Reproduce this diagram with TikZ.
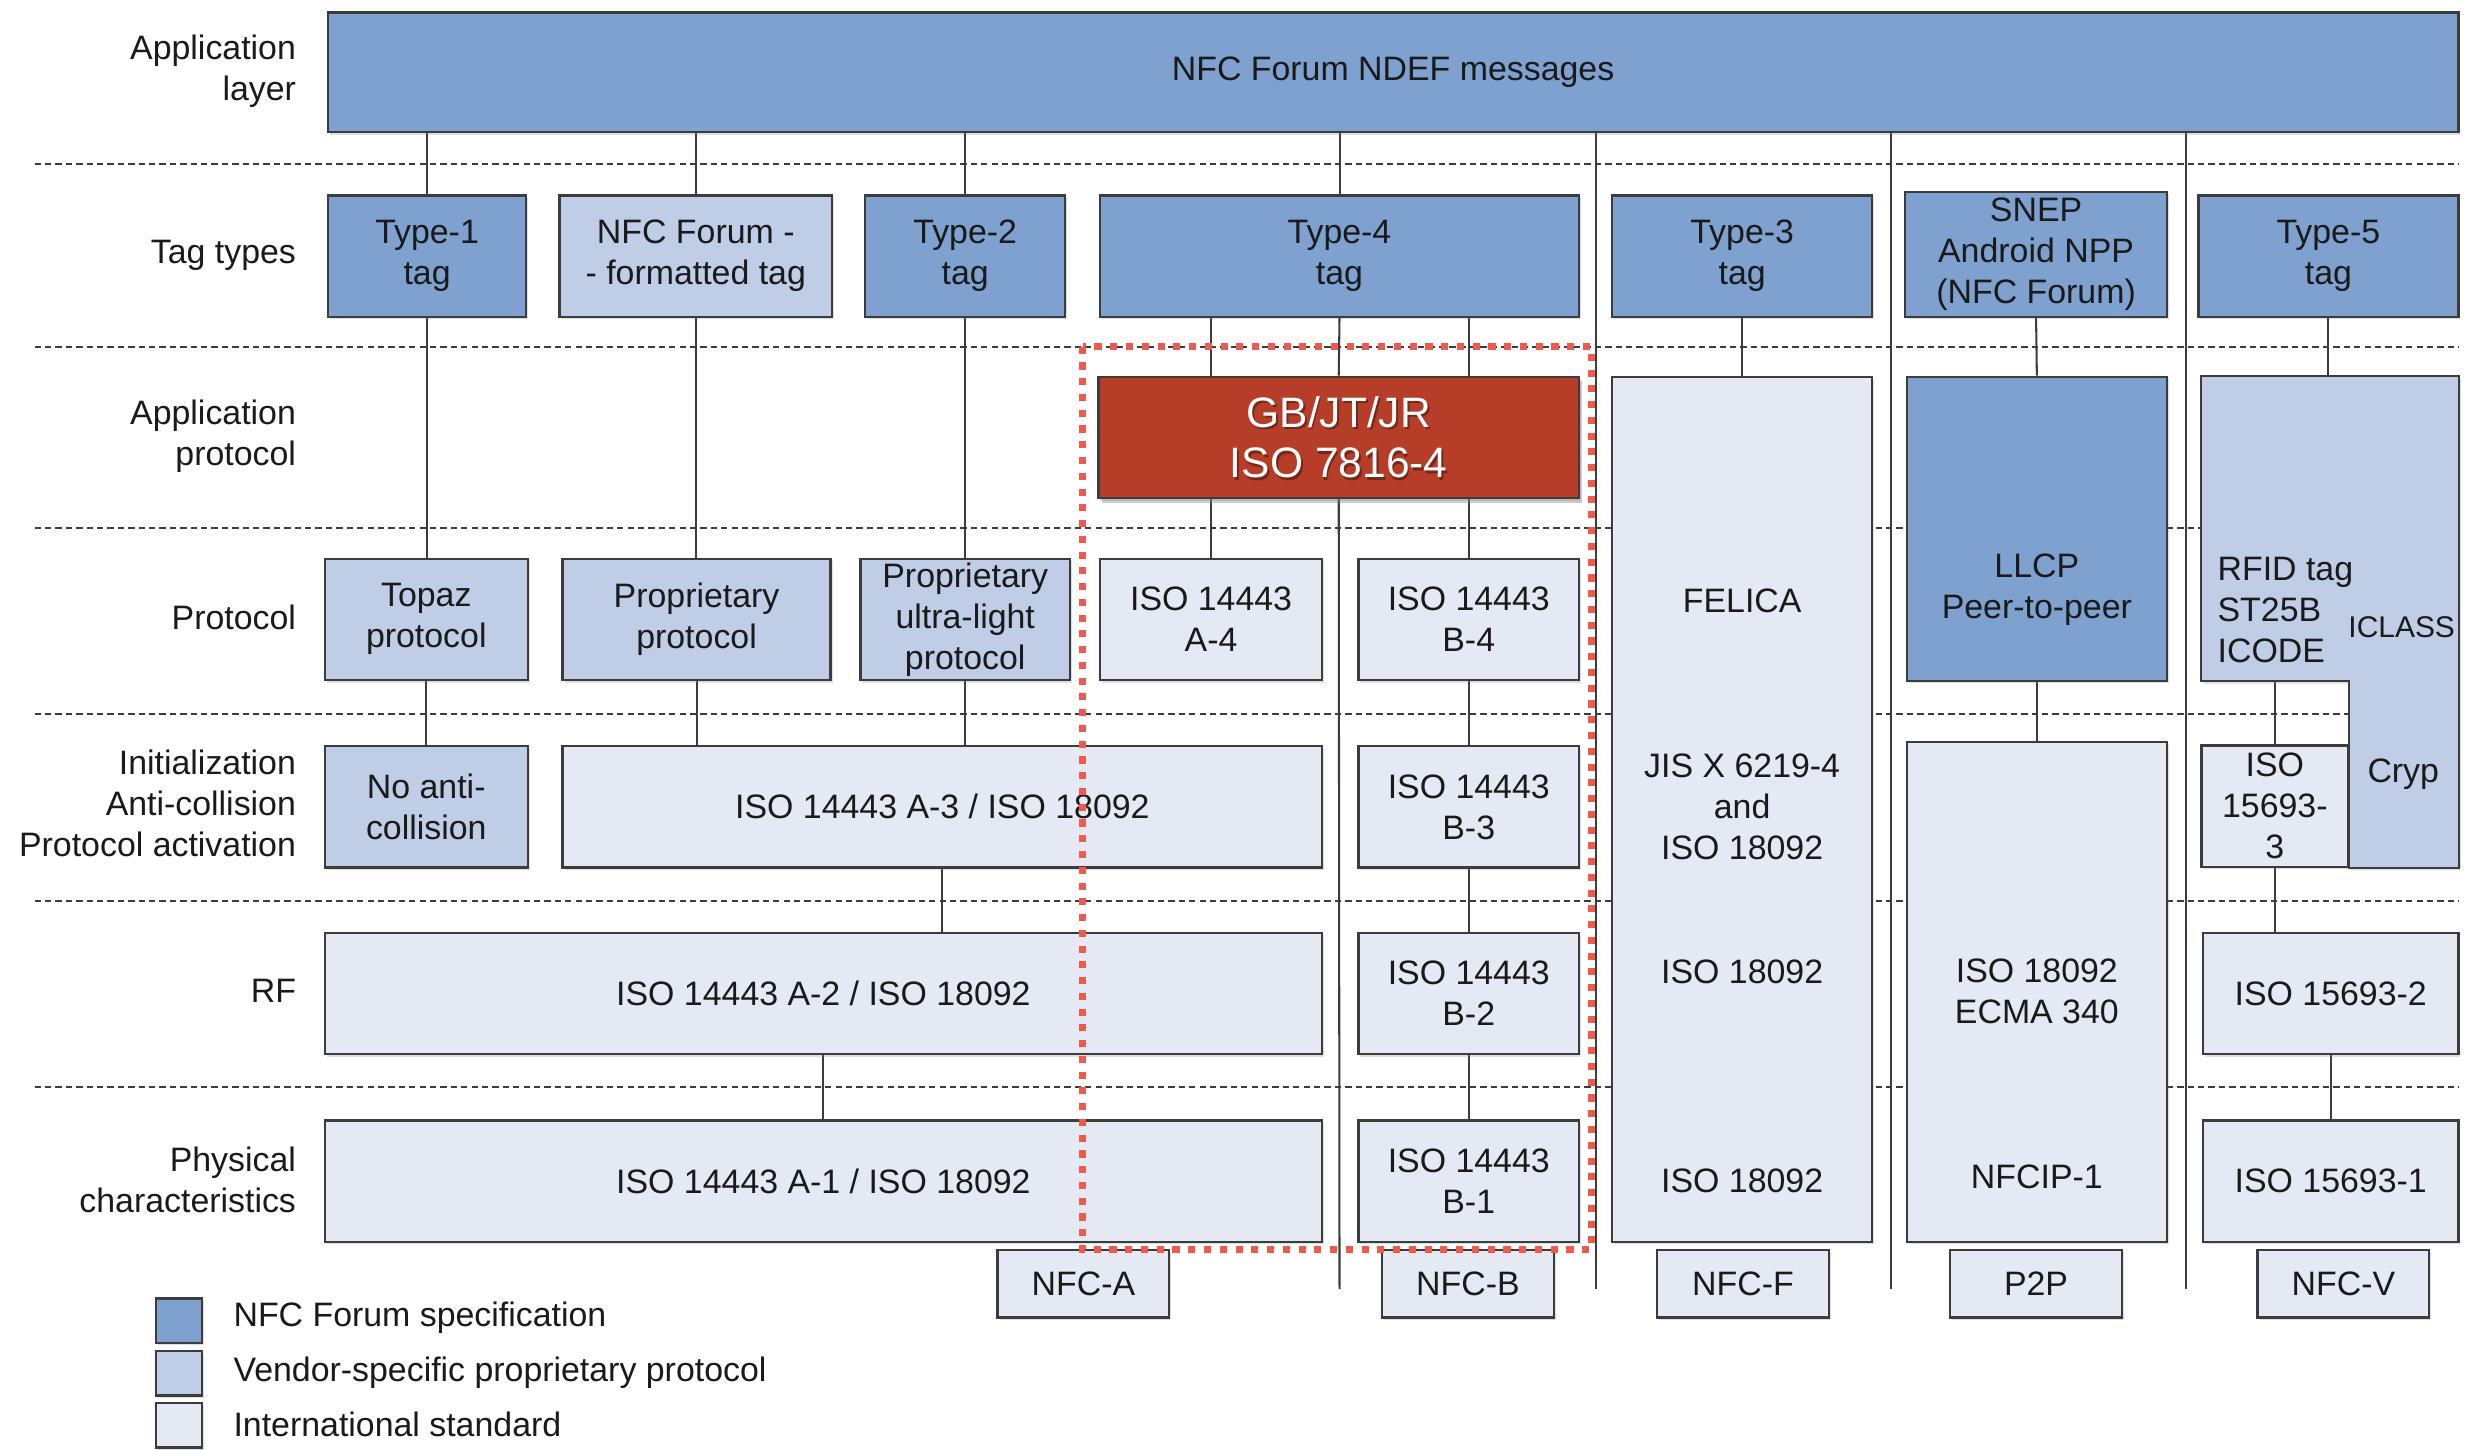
\documentclass[tikz,border=0pt]{standalone}
\usepackage{fontspec}
\setmainfont{Liberation Sans}
\usetikzlibrary{shadows}
\definecolor{nfcblue}{HTML}{7EA1CF}
\definecolor{vendor}{HTML}{BFCDE6}
\definecolor{intl}{HTML}{E4E9F4}
\definecolor{redbox}{HTML}{B63D27}
\definecolor{reddot}{HTML}{EF5A4A}
\definecolor{edge}{HTML}{3C3C3C}
\definecolor{ink}{HTML}{1A1A1A}
\pgfdeclarelayer{background}
\pgfsetlayers{background,main}
\begin{document}
\begin{tikzpicture}[x=1pt,y=-1pt,
  every node/.style={font=\fontsize{21.5}{26}\selectfont, text=ink},
  shad/.style={drop shadow={shadow xshift=1.3pt, shadow yshift=-1.6pt, opacity=0.25}},
  box/.style={draw=edge, line width=1.4pt, inner sep=0pt, align=center, shad},
  nfc/.style={box, fill=nfcblue},
  ven/.style={box, fill=vendor},
  std/.style={box, fill=intl},
  rowh/.style={minimum height=77},
  lbl/.style={anchor=east, align=right, inner sep=0pt},
  txt/.style={align=center, inner sep=0pt},
  sep/.style={dash pattern=on 4pt off 2.6pt, line width=1.2pt, draw=edge},
  conn/.style={line width=1.3pt, draw=edge},
  nfcband/.style={box, fill=intl, minimum width=109, minimum height=43}
]
\useasboundingbox (0,0) rectangle (1568,919.5);

% layer labels
\node[lbl] (Lapp) at (188,45) {Application\\layer};
\node[lbl] (Ltag) at (188,162) {Tag types};
\node[lbl] (Lap) at (188,277) {Application\\protocol};
\node[lbl] (Lpro) at (188,392) {Protocol};
\node[lbl] (Linit) at (188,510) {Initialization\\Anti-collision\\Protocol activation};
\node[lbl] (Lrf) at (188,629) {RF};
\node[lbl] (Lphy) at (188,749) {Physical\\characteristics};

% dashed layer separators
\foreach \yy in {104,220,335,453,572,690}
  \draw[sep] (22,\yy) -- (1560,\yy);

% named coordinates for column separators
\coordinate (s0) at (850,818);
\coordinate (s1) at (1013,818);
\coordinate (s2) at (1200,818);
\coordinate (s3) at (1387,818);

% top
\node[nfc, minimum width=1352, minimum height=76] (top) at (884,46) {NFC Forum NDEF messages};

% tag types
\node[nfc, rowh, minimum width=126] (t1) at (271,162.5) {Type-1\\tag};
\node[ven, rowh, minimum width=173] (nff) at (441.5,162.5) {NFC Forum -\\- formatted tag};
\node[nfc, rowh, minimum width=127] (t2) at (612.5,162.5) {Type-2\\tag};
\node[nfc, rowh, minimum width=304] (t4) at (850,162.5) {Type-4\\tag};
\node[nfc, rowh, minimum width=165] (t3) at (1105.5,162.5) {Type-3\\tag};
\node[nfc, minimum width=166, minimum height=79] (snep) at (1292,161.5) {SNEP\\Android NPP\\(NFC Forum)};
\node[nfc, rowh, minimum width=165] (t5) at (1477.5,162.5) {Type-5\\tag};

% application protocol
\node[box, fill=redbox, rowh, minimum width=305,
      drop shadow={shadow xshift=2pt, shadow yshift=-3pt, opacity=0.4}] (red) at (849.5,277.5) {};
\node[txt, text=black, opacity=0.35, font=\fontsize{27}{32}\selectfont] (redsh) at ([xshift=1.2pt,yshift=-1.5pt]red.center) {GB/JT/JR\\ISO 7816-4};
\node[txt, text=white, font=\fontsize{27}{32}\selectfont] (redt) at (red.center) {GB/JT/JR\\ISO 7816-4};
\node[std, minimum width=165, minimum height=549] (felica) at (1105.5,513.5) {};
\node[nfc, minimum width=165, minimum height=193] (llcp) at (1292.5,335.5) {};
\node[std, minimum width=165, minimum height=317] (p2pbox) at (1292.5,629.5) {};

% protocol row
\node[ven, rowh, minimum width=129] (topaz) at (270.5,393) {Topaz\\protocol};
\node[ven, rowh, minimum width=170] (pp) at (442,393) {Proprietary\\protocol};
\node[ven, rowh, minimum width=133] (ul) at (612.5,393) {Proprietary\\ultra-light\\protocol};
\node[std, rowh, minimum width=141] (a4) at (768.5,393) {ISO 14443\\A-4};
\node[std, rowh, minimum width=140] (b4) at (932,393) {ISO 14443\\B-4};

% init row
\node[ven, rowh, minimum width=129] (noac) at (270.5,512) {No anti-\\collision};
\node[std, rowh, minimum width=482] (a3) at (598,512) {ISO 14443 A-3 / ISO 18092};
\node[std, rowh, minimum width=140] (b3) at (932,512) {ISO 14443\\B-3};
\node[std, minimum width=93, minimum height=77] (iso3) at (1443.5,511.5) {ISO\\15693-\\3};

% Type-5 vendor block (L shape)
\node[inner sep=0pt, minimum width=163, minimum height=193] (v5) at (1478.5,335.5) {};
\path[draw=edge, line width=1.4pt, fill=vendor, shad]
  (v5.north west) -- (v5.north east) -- (v5.north east |- iso3.south) -- (iso3.south east)
  -- (iso3.north east |- v5.south) -- (v5.south west) -- cycle;
\node[anchor=west, align=left, inner sep=0pt] (rfid) at (1407,387) {RFID tag\\ST25B\\ICODE};
\node[txt, font=\fontsize{19}{23}\selectfont] (iclass) at (1524,398) {ICLASS};
\node[txt] (cryp) at (1525,491) {Cryp};

% RF row
\node[std, rowh, minimum width=633] (a2) at (522.5,630.5) {ISO 14443 A-2 / ISO 18092};
\node[std, rowh, minimum width=140] (b2) at (932,630.5) {ISO 14443\\B-2};
\node[std, rowh, minimum width=162] (iso2) at (1479,630.5) {ISO 15693-2};

% physical row
\node[std, rowh, minimum width=633] (a1) at (522.5,749.5) {ISO 14443 A-1 / ISO 18092};
\node[std, rowh, minimum width=140] (b1) at (932,749.5) {ISO 14443\\B-1};
\node[std, rowh, minimum width=162] (iso1) at (1479,749.5) {ISO 15693-1};

% texts inside tall boxes
\node[txt] (felA) at (1105.5,381) {FELICA};
\node[txt] (felB) at (1105.5,512) {JIS X 6219-4\\and\\ISO 18092};
\node[txt] (felC) at (1105.5,617) {ISO 18092};
\node[txt] (felD) at (1105.5,749) {ISO 18092};
\node[txt] (llcpT) at (1292.5,374) {LLCP\\Peer-to-peer};
\node[txt] (p2pA) at (1292.5,629) {ISO 18092\\ECMA 340};
\node[txt] (p2pB) at (1292.5,747) {NFCIP-1};

% technology labels
\node[nfcband] (nfca) at (687.5,814.5) {NFC-A};
\node[nfcband] (nfcb) at (931.5,814.5) {NFC-B};
\node[nfcband] (nfcf) at (1106,814.5) {NFC-F};
\node[nfcband] (p2p) at (1292,814.5) {P2P};
\node[nfcband] (nfcv) at (1487,814.5) {NFC-V};

% legend
\node[nfc, minimum width=29, minimum height=28] (leg1) at (113.5,838) {};
\node[ven, minimum width=29, minimum height=28] (leg2) at (113.5,871.5) {};
\node[std, minimum width=29, minimum height=28] (leg3) at (113.5,904.5) {};
\node[anchor=west, inner sep=0pt] (legt1) at (148,836) {NFC Forum specification};
\node[anchor=west, inner sep=0pt] (legt2) at (148,871) {Vendor-specific proprietary protocol};
\node[anchor=west, inner sep=0pt] (legt3) at (148,904) {International standard};

% connectors (behind boxes)
\begin{pgfonlayer}{background}
  % from application layer
  \draw[conn] (top.south -| t1.north) -- (t1.north);
  \draw[conn] (top.south -| nff.north) -- (nff.north);
  \draw[conn] (top.south -| t2.north) -- (t2.north);
  \draw[conn] (top.south -| t4.north) -- (t4.north);
  % column separators
  \draw[conn] (top.south -| s1) -- (s1);
  \draw[conn] (top.south -| s2) -- (s2);
  \draw[conn] (top.south -| s3) -- (s3);
  \draw[conn] (red.south) -- (s0);
  % Type-1 column
  \draw[conn] (t1.south) -- (topaz.north -| t1.south);
  \draw[conn] (topaz.south) -- (noac.north);
  % NFC Forum formatted column
  \draw[conn] (nff.south) -- (pp.north -| nff.south);
  \draw[conn] (pp.south) -- (a3.north -| pp.south);
  % Type-2 column
  \draw[conn] (t2.south) -- (ul.north);
  \draw[conn] (ul.south) -- (a3.north -| ul.south);
  % NFC-A stack
  \draw[conn] (a3.south) -- (a2.north -| a3.south);
  \draw[conn] (a2.south) -- (a1.north);
  % Type-4 column
  \draw[conn] (t4.south -| a4.north) -- (red.north -| a4.north);
  \draw[conn] (t4.south) -- (red.north);
  \draw[conn] (t4.south -| b4.north) -- (red.north -| b4.north);
  \draw[conn] (red.south -| a4.north) -- (a4.north);
  \draw[conn] (red.south -| b4.north) -- (b4.north);
  \draw[conn] (b4.south) -- (b3.north);
  \draw[conn] (b3.south) -- (b2.north);
  \draw[conn] (b2.south) -- (b1.north);
  % Type-3
  \draw[conn] (t3.south) -- (felica.north);
  % P2P
  \draw[conn] (snep.south) -- (llcp.north);
  \draw[conn] (llcp.south) -- (p2pbox.north);
  % Type-5
  \draw[conn] (t5.south) -- (v5.north -| t5.south);
  \draw[conn] (v5.south -| iso3.north) -- (iso3.north);
  \draw[conn] (iso3.south) -- (iso2.north -| iso3.south);
  \draw[conn] (iso2.south) -- (iso1.north);
\end{pgfonlayer}

% highlighted region
\coordinate (hlNW) at (687,220);
\coordinate (hlSE) at (1010,793);
\draw[reddot, line width=4.5pt, dash pattern=on 4.5pt off 5.5pt] (hlNW) rectangle (hlSE);
\end{tikzpicture}
\end{document}
